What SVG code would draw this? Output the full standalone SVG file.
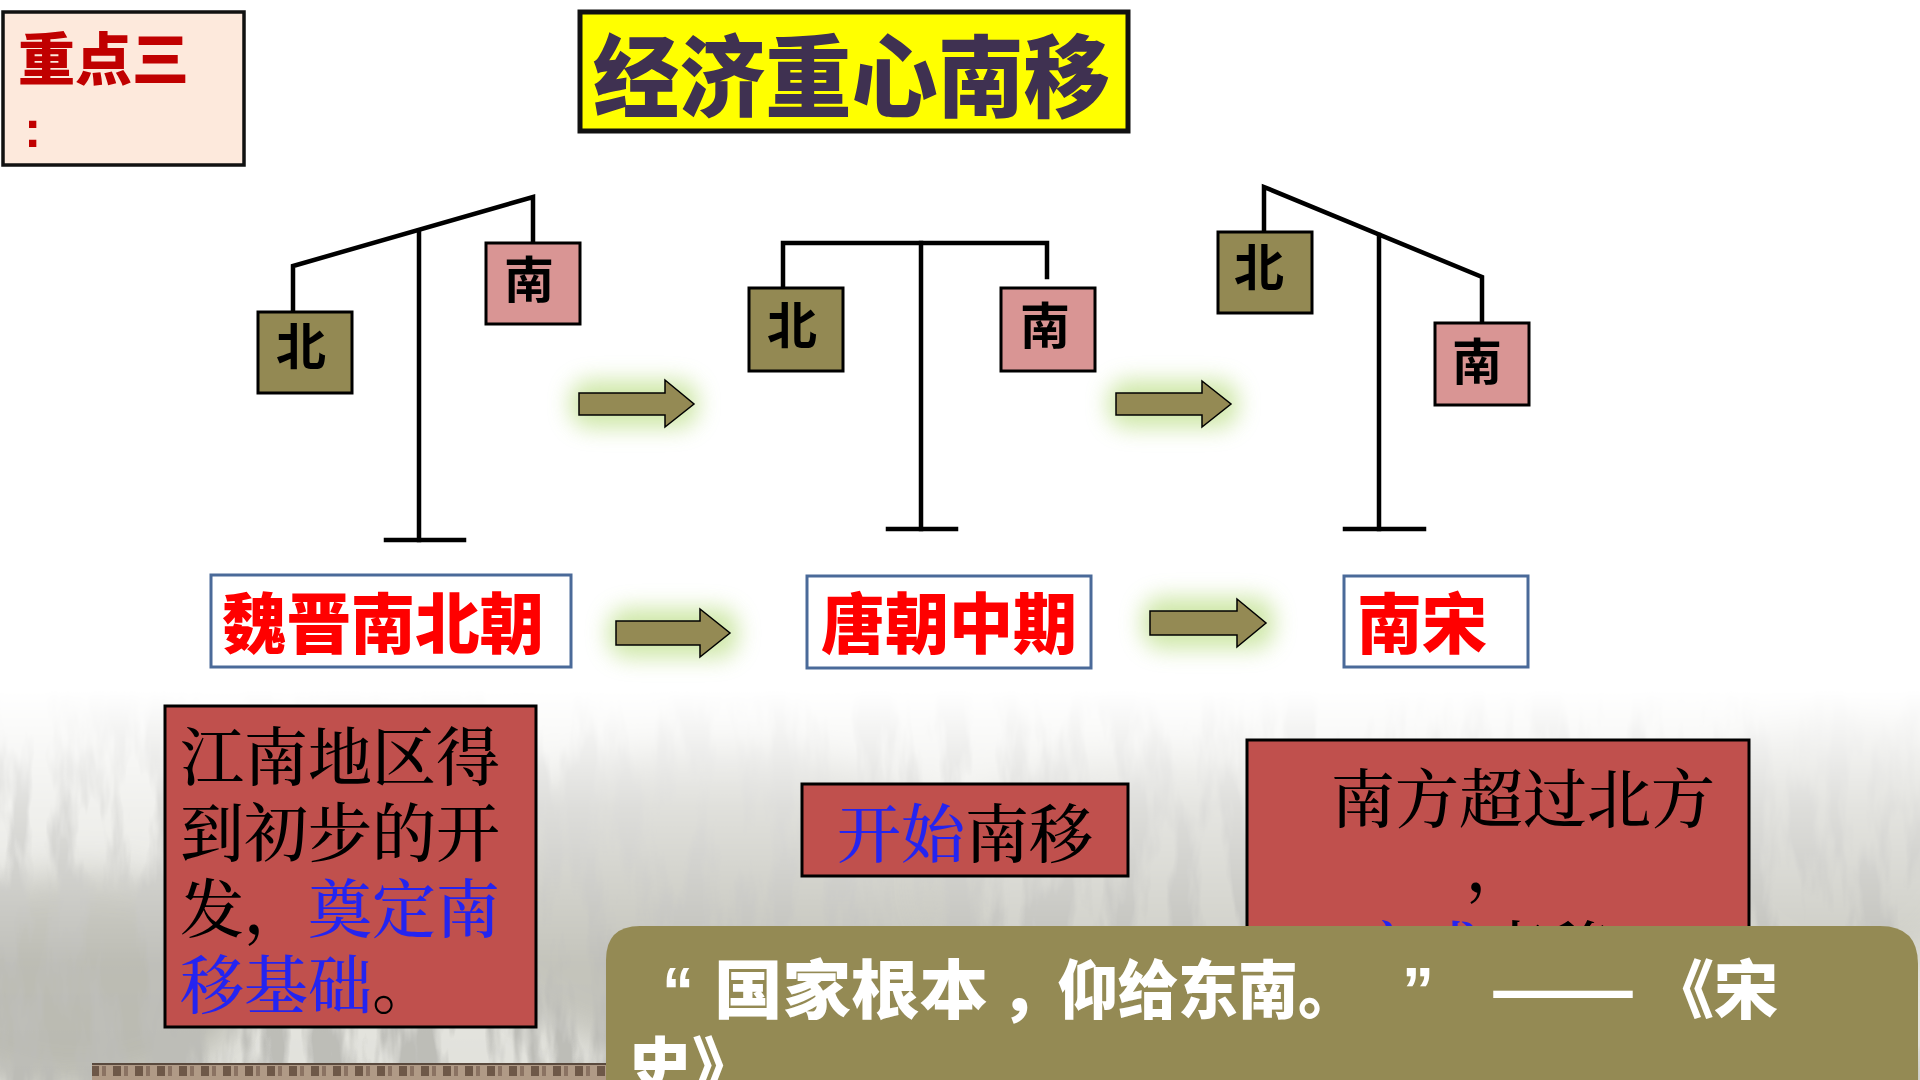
<svg xmlns="http://www.w3.org/2000/svg" width="1920" height="1080" viewBox="0 0 1920 1080">
<defs>
  <style>
    .cjk{font-family:"Noto Sans CJK SC","Noto Sans CJK TC",sans-serif;}
    .song{font-family:"Noto Serif CJK SC","Noto Sans CJK SC",serif;font-weight:500;}
    .lat{font-family:"Liberation Sans",Arial,sans-serif;}
    .beam{stroke:#000;stroke-width:4.5;fill:none;stroke-linejoin:miter;stroke-linecap:square;}
    .north{fill:#938953;stroke:#000;stroke-width:3;}
    .south{fill:#d99594;stroke:#000;stroke-width:3;}
    .wt{font-size:50px;font-weight:700;fill:#000;text-anchor:middle;}
    .period{fill:#fff;stroke:#4a6a99;stroke-width:3;}
    .ptxt{font-size:66px;font-weight:900;fill:#ff0000;}
    .redbox{fill:#c0504d;stroke:#000;stroke-width:3;}
    .arrow{fill:#948a54;stroke:#000;stroke-width:1.5;stroke-linejoin:miter;}
    .glow{fill:#bfe08c;opacity:0.75;filter:url(#blur);}
    .bk{fill:#000;}
    .bl{fill:#2424f0;}
  </style>
  <filter id="blur" x="-50%" y="-100%" width="200%" height="300%">
    <feGaussianBlur stdDeviation="11"/>
  </filter>
  <filter id="tex" x="0" y="0" width="100%" height="100%">
    <feTurbulence type="fractalNoise" baseFrequency="0.035 0.008" numOctaves="4" seed="7"/>
    <feColorMatrix type="matrix" values="0 0 0 0 0.5  0 0 0 0 0.5  0 0 0 0 0.47  4.5 0 0 0 -1.9"/>
  </filter>
  <filter id="soft" x="-20%" y="-20%" width="140%" height="140%">
    <feGaussianBlur stdDeviation="18"/>
  </filter>
  <linearGradient id="fade" x1="0" y1="0" x2="0" y2="1">
    <stop offset="0" stop-color="#fff" stop-opacity="0"/>
    <stop offset="0.3" stop-color="#fff" stop-opacity="0.5"/>
    <stop offset="0.7" stop-color="#fff" stop-opacity="0.95"/>
    <stop offset="1" stop-color="#fff" stop-opacity="1"/>
  </linearGradient>
  <mask id="bgmask">
    <rect x="0" y="690" width="1920" height="390" fill="url(#fade)"/>
  </mask>
  <clipPath id="aboveBanner">
    <rect x="1240" y="730" width="520" height="196"/>
  </clipPath>
  <pattern id="tiles" x="0" y="0" width="22" height="18" patternUnits="userSpaceOnUse">
    <rect width="22" height="18" fill="#b09a86"/>
    <rect x="3" y="4" width="8" height="10" fill="#6e5848"/>
    <rect x="14" y="4" width="4" height="10" fill="#8a7262"/>
  </pattern>
</defs>

<!-- background -->
<rect width="1920" height="1080" fill="#ffffff"/>
<g id="background">
  <g mask="url(#bgmask)">
    <rect x="0" y="690" width="1920" height="390" fill="#e2e2dc"/>
    <ellipse cx="720" cy="900" rx="260" ry="160" fill="#b4b4aa" filter="url(#soft)" opacity="0.7"/>
    <ellipse cx="1150" cy="880" rx="220" ry="130" fill="#bdbdb4" filter="url(#soft)" opacity="0.6"/>
    <ellipse cx="1840" cy="840" rx="140" ry="140" fill="#b8b8ae" filter="url(#soft)" opacity="0.6"/>
    <ellipse cx="80" cy="980" rx="170" ry="110" fill="#a8a89e" filter="url(#soft)" opacity="0.7"/>
    <rect x="0" y="690" width="1920" height="390" filter="url(#tex)"/>
  </g>
  <rect x="92" y="1064" width="514" height="16" fill="url(#tiles)"/>
  <line x1="92" y1="1064" x2="606" y2="1064" stroke="#5a4a3e" stroke-width="2"/>
</g>

<!-- header -->
<g id="badge">
  <rect x="3" y="12" width="241" height="153" fill="#fde9dc" stroke="#111" stroke-width="3.5"/>
  <text class="cjk" x="18" y="80" font-size="57" font-weight="900" fill="#c00000">重点三</text>
  <text class="lat" x="24" y="147" font-size="52" font-weight="700" fill="#c00000">:</text>
</g>
<g id="title">
  <rect x="580" y="12" width="548" height="119" fill="#ffff00" stroke="#111" stroke-width="5"/>
  <text class="cjk" x="593" y="110" font-size="90" font-weight="900" fill="#3f3151" textLength="517" lengthAdjust="spacingAndGlyphs">经济重心南移</text>
</g>

<!-- scale 1 -->
<g id="scale1">
  <polyline class="beam" points="293,312 293,266 533,197 533,243"/>
  <line class="beam" x1="419" y1="231" x2="419" y2="540"/>
  <line class="beam" x1="386" y1="540" x2="464" y2="540"/>
  <rect class="north" x="258" y="312" width="94" height="81"/>
  <rect class="south" x="486" y="243" width="94" height="81"/>
  <text class="cjk wt" x="301" y="365">北</text>
  <text class="cjk wt" x="529" y="298">南</text>
</g>

<!-- scale 2 -->
<g id="scale2">
  <polyline class="beam" points="783,288 783,243 1047,243 1047,277"/>
  <line class="beam" x1="921" y1="243" x2="921" y2="529"/>
  <line class="beam" x1="888" y1="529" x2="956" y2="529"/>
  <rect class="north" x="749" y="288" width="94" height="83"/>
  <rect class="south" x="1001" y="288" width="94" height="83"/>
  <text class="cjk wt" x="792" y="344">北</text>
  <text class="cjk wt" x="1045" y="344">南</text>
</g>

<!-- scale 3 -->
<g id="scale3">
  <polyline class="beam" points="1264,232 1264,187 1482,277 1482,323"/>
  <line class="beam" x1="1379" y1="235" x2="1379" y2="529"/>
  <line class="beam" x1="1345" y1="529" x2="1424" y2="529"/>
  <rect class="north" x="1218" y="232" width="94" height="81"/>
  <rect class="south" x="1435" y="323" width="94" height="82"/>
  <text class="cjk wt" x="1259" y="286">北</text>
  <text class="cjk wt" x="1477" y="380">南</text>
</g>

<!-- period nodes -->
<g id="period1">
  <rect class="period" x="211" y="575" width="360" height="92"/>
  <text class="cjk ptxt" x="222" y="648" textLength="322" lengthAdjust="spacingAndGlyphs">魏晋南北朝</text>
</g>
<g id="period2">
  <rect class="period" x="807" y="576" width="284" height="92"/>
  <text class="cjk ptxt" x="821" y="648" textLength="256" lengthAdjust="spacingAndGlyphs">唐朝中期</text>
</g>
<g id="period3">
  <rect class="period" x="1344" y="576" width="184" height="91"/>
  <text class="cjk ptxt" x="1357" y="648" textLength="130" lengthAdjust="spacingAndGlyphs">南宋</text>
</g>

<!-- connectors -->
<g id="connectors">
  <rect class="glow" x="570" y="380" width="128" height="48" rx="20"/>
  <path class="arrow" d="M579,393 H665 V380 L694,404 L665,427 V415 H579 Z"/>
  <rect class="glow" x="1108" y="380" width="130" height="48" rx="20"/>
  <path class="arrow" d="M1116,393 H1202 V381 L1231,404 L1202,427 V415 H1116 Z"/>
  <rect class="glow" x="608" y="608" width="130" height="50" rx="20"/>
  <path class="arrow" d="M616,621 H700 V609 L730,633 L700,657 V645 H616 Z"/>
  <rect class="glow" x="1142" y="597" width="132" height="52" rx="20"/>
  <path class="arrow" d="M1150,611 H1237 V599 L1266,623 L1237,647 V635 H1150 Z"/>
</g>

<!-- description boxes -->
<g id="note1">
  <rect class="redbox" x="165" y="706" width="371" height="321"/>
  <text class="song" font-size="64">
    <tspan class="bk" x="180" y="780">江南地区得</tspan>
    <tspan class="bk" x="180" y="856">到初步的开</tspan>
    <tspan class="bk" x="180" y="932">发，</tspan><tspan class="bl">奠定南</tspan>
    <tspan class="bl" x="180" y="1008">移基础</tspan><tspan class="bk">。</tspan>
  </text>
</g>
<g id="note2">
  <rect class="redbox" x="802" y="784" width="326" height="92"/>
  <text class="song" font-size="64" x="837" y="857"><tspan class="bl">开始</tspan><tspan class="bk">南移</tspan></text>
</g>
<g id="note3">
  <rect class="redbox" x="1247" y="740" width="502" height="300"/>
  <text class="song bk" font-size="64" x="1331" y="822">南方超过北方</text>
  <text class="song bk" font-size="64" x="1466" y="890">，</text>
  <text class="song" font-size="64" x="1355" y="974" clip-path="url(#aboveBanner)"><tspan class="bl">完成</tspan><tspan class="bk">南移</tspan></text>
</g>

<!-- quote banner -->
<g id="quote">
  <path d="M640,926 H1880 Q1918,926 1918,964 V1090 H606 V960 Q606,926 640,926 Z" fill="#948a54"/>
  <g font-weight="900" fill="#ffffff" font-size="64">
    <text class="lat" x="662" y="1013">“</text>
    <text class="cjk" x="714" y="1013" textLength="274" lengthAdjust="spacingAndGlyphs">国家根本</text>
    <text class="cjk" x="1000" y="1013">，</text>
    <text class="cjk" x="1058" y="1013" textLength="300" lengthAdjust="spacingAndGlyphs">仰给东南。</text>
    <text class="lat" x="1402" y="1013">”</text>
    <text class="cjk" x="1489" y="1013" textLength="148" lengthAdjust="spacingAndGlyphs">——</text>
    <text class="cjk" x="1650" y="1013">《宋</text>
    <text class="cjk" x="628" y="1090">史》</text>
  </g>
</g>
</svg>
